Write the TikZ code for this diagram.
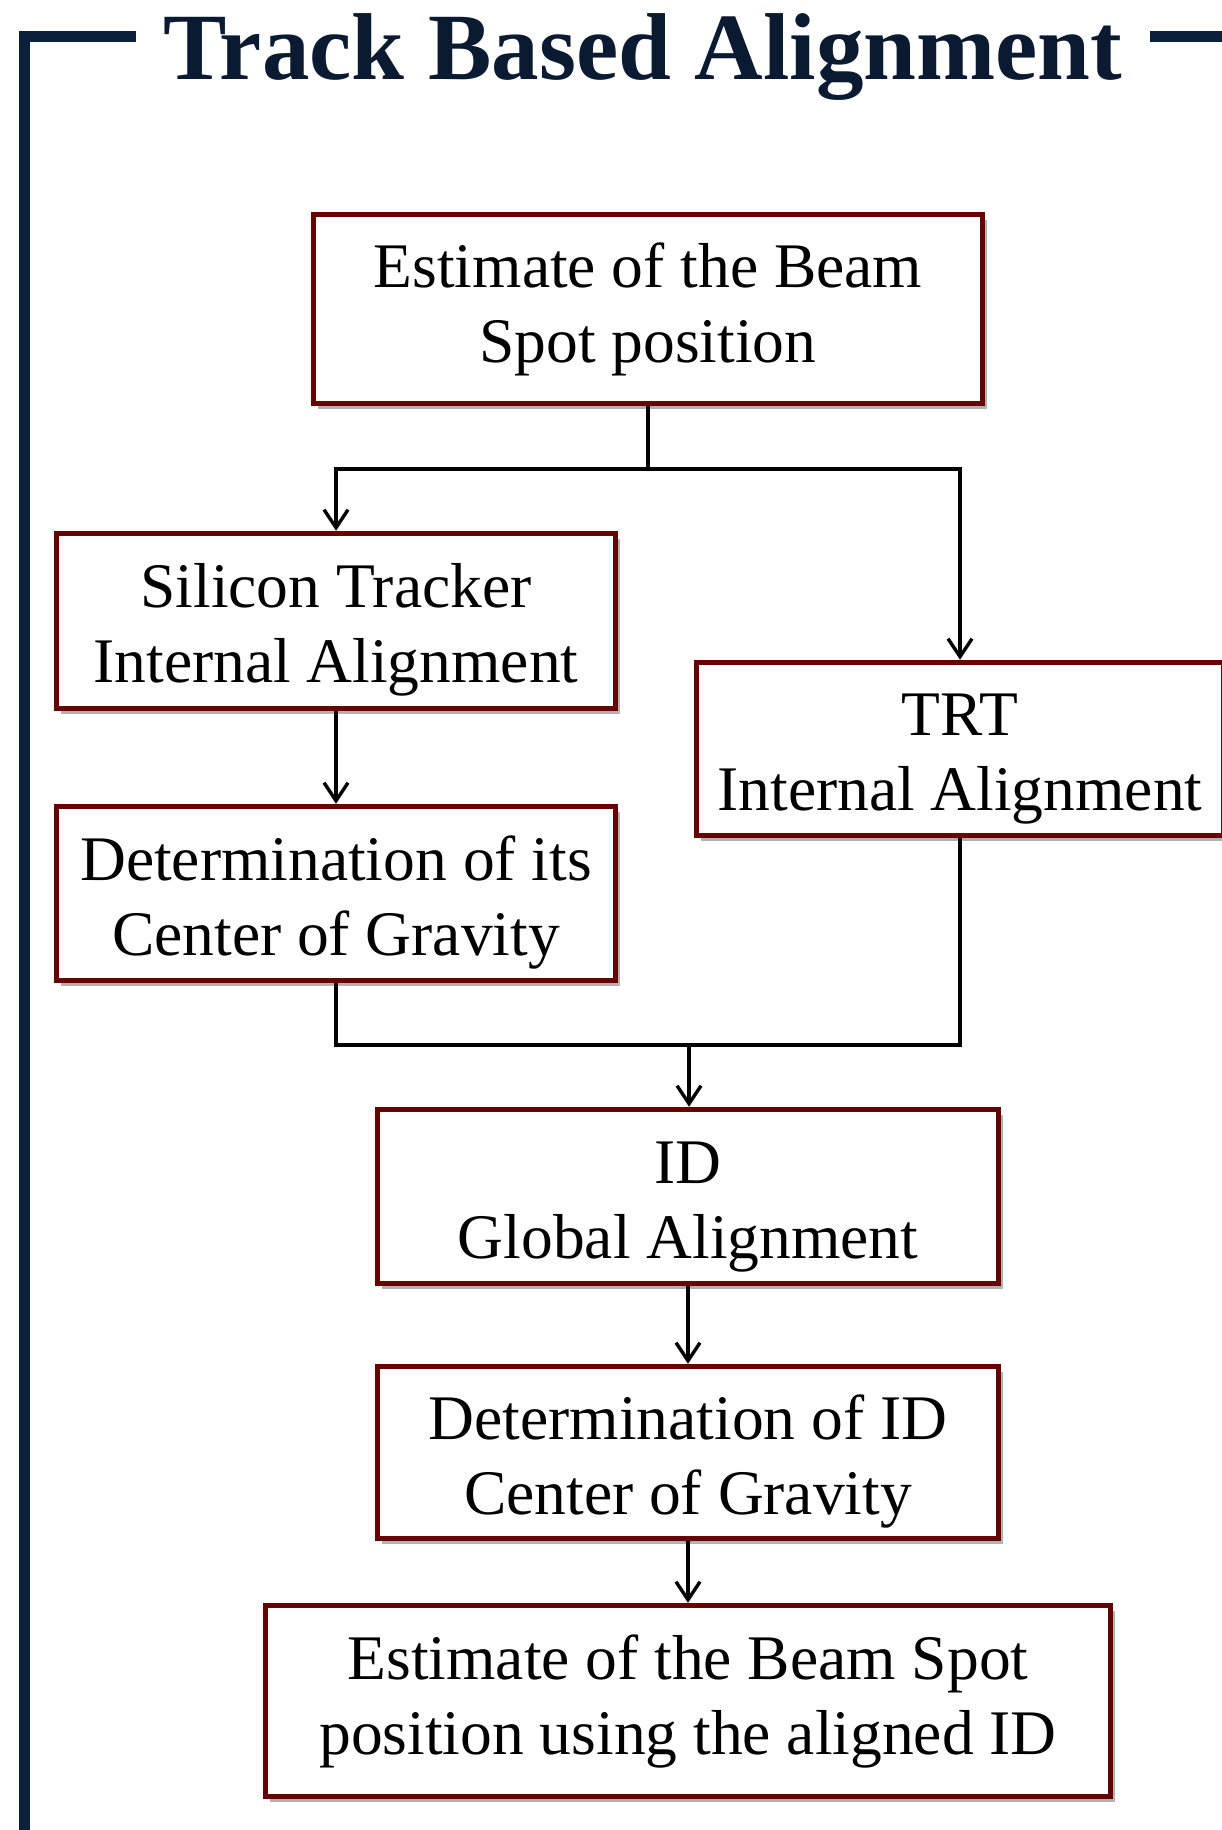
\documentclass[tikz,border=0pt]{standalone}
\usepackage{fontspec}
\setmainfont{Liberation Serif}
\usetikzlibrary{arrows.meta,shadows}
\definecolor{navy}{RGB}{11,33,58}
\definecolor{titlenavy}{RGB}{10,26,48}
\definecolor{boxred}{RGB}{102,4,4}
\newcommand{\topstrut}{\rule{0pt}{62pt}}
\tikzset{
  flowbox/.style={draw=boxred, line width=5.5pt, fill=white, align=center,
    inner sep=0pt, font=\fontsize{63.5}{75}\selectfont,
    drop shadow={shadow xshift=4pt, shadow yshift=-5pt, fill=black, opacity=0.3}},
  conn/.style={line width=3.4pt, black},
  arr/.style={conn, -{Straight Barb[length=18pt,width=24pt,line width=3.4pt]}},
  frame/.style={navy, line width=11pt, line join=miter}
}
\begin{document}
\begin{tikzpicture}[x=1pt,y=-1pt]
\clip (0,0) rectangle (1222,1830);
\fill[white] (0,0) rectangle (1222,1830);

% frame
\draw[frame] (136,37) -- (24,37) -- (24,1840);
\draw[frame] (1150,37) -- (1235,37);
\node[anchor=base, text=titlenavy, font=\fontsize{95}{100}\selectfont\bfseries, inner sep=0pt] (title) at (643,80) {Track Based Alignment};

% boxes
\node[flowbox, minimum width=669pt, minimum height=189pt] (b1) at (648,309) {Estimate of the Beam\\Spot position};
\node[flowbox, minimum width=559pt, minimum height=175pt] (b2) at (336,621) {\topstrut Silicon Tracker\\Internal Alignment};
\node[flowbox, minimum width=559pt, minimum height=174pt] (b3) at (336,893.5) {\topstrut Determination of its\\Center of Gravity};
\node[flowbox, minimum width=527pt, minimum height=173pt] (b4) at (960,749) {\topstrut TRT\\Internal Alignment};
\node[flowbox, minimum width=621pt, minimum height=174pt] (b5) at (688,1196.5) {\topstrut ID\\Global Alignment};
\node[flowbox, minimum width=621pt, minimum height=172pt] (b6) at (688,1452.5) {\topstrut Determination of ID\\Center of Gravity};
\node[flowbox, minimum width=845pt, minimum height=191pt] (b7) at (688,1701) {Estimate of the Beam Spot\\position using the aligned ID};

% connectors
\coordinate (j1) at (648,469);
\coordinate (j2) at (689,1045);
\draw[conn] (b1.south) -- (j1);
\draw[arr] (j1) -| (b2.north);
\draw[arr] (j1) -| (b4.north);
\draw[arr] (b2.south) -- (b3.north);
\draw[conn] (b3.south) |- (j2);
\draw[conn] (b4.south) |- (j2);
\draw[arr] (j2) -- (j2 |- b5.north);
\draw[arr] (b5.south) -- (b6.north);
\draw[arr] (b6.south) -- (b7.north);
\end{tikzpicture}
\end{document}
